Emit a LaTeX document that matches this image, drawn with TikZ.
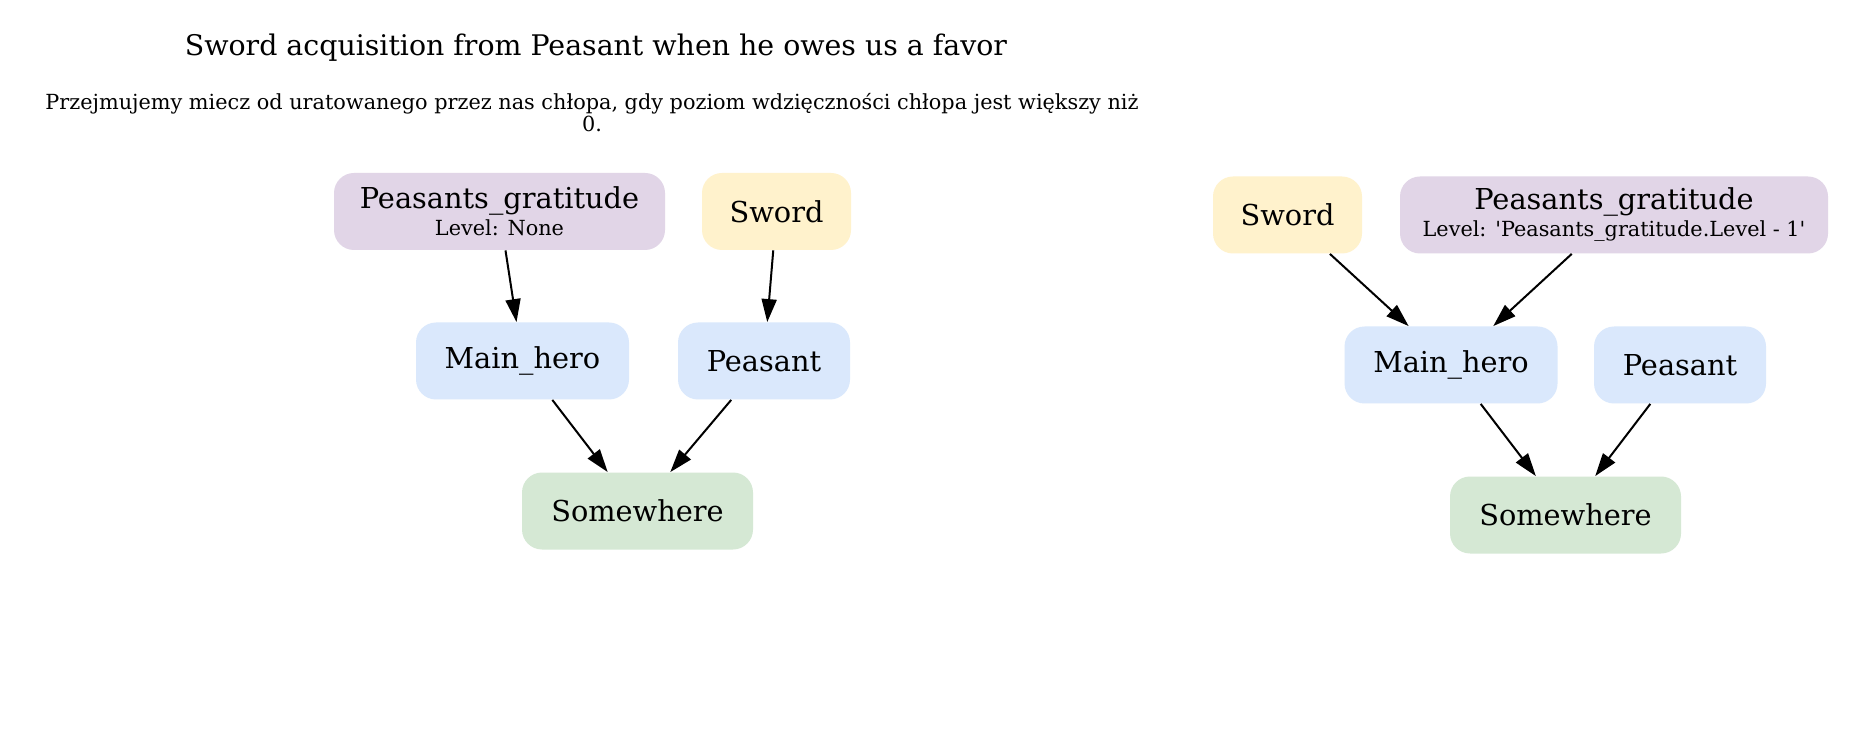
\documentclass[tikz,border=0pt]{standalone}
\usepackage{fontspec}
\setmainfont{DejaVu Serif}
\usetikzlibrary{arrows.meta}
\definecolor{cPurple}{HTML}{E1D5E7}
\definecolor{cYellow}{HTML}{FFF2CC}
\definecolor{cBlue}{HTML}{DAE8FC}
\definecolor{cGreen}{HTML}{D5E8D4}
\tikzset{
  box/.style={rounded corners=10pt, inner sep=0pt, minimum height=38.5pt, align=center,
    font=\fontsize{14.4}{17}\selectfont},
  purplebox/.style={box, fill=cPurple},
  yellowbox/.style={box, fill=cYellow},
  bluebox/.style={box, fill=cBlue},
  greenbox/.style={box, fill=cGreen},
  edge/.style={line width=1pt, -{Triangle[length=11.5pt,width=7.5pt]}}
}
\newcommand{\lvltext}[1]{{\fontsize{10.4}{12}\selectfont #1}}
\begin{document}
\begin{tikzpicture}[x=0.5pt, y=-0.5pt]
\useasboundingbox[fill=white] (0,0) rectangle (1855,731);
% title
\node[font=\fontsize{14.2}{17}\selectfont] (title) at (596,48) {Sword acquisition from Peasant when he owes us a favor};
\node[align=center, font=\fontsize{10.4}{10}\selectfont] (sub) at (592,113)
  {Przejmujemy miecz od uratowanego przez nas chłopa, gdy poziom wdzięczności chłopa jest większy niż\\0.};
% left graph
\node[purplebox, minimum width=165.5pt] (pg1) at (499.5,211.5)
  {Peasants\_gratitude\\[-3.5pt]\lvltext{Level: None}};
\node[yellowbox, minimum width=74.5pt] (sw1) at (776.5,211.5) {Sword};
\node[bluebox, minimum width=106.5pt] (mh1) at (522.5,361) {Main\_hero};
\node[bluebox, minimum width=86pt] (pe1) at (764,361) {Peasant};
\node[greenbox, minimum width=115.5pt] (so1) at (637.5,511) {Somewhere};
\draw[edge] (pg1) -- (mh1);
\draw[edge] (sw1) -- (pe1);
\draw[edge] (mh1) -- (so1);
\draw[edge] (pe1) -- (so1);
% right graph
\node[yellowbox, minimum width=74.5pt] (sw2) at (1287.5,215) {Sword};
\node[purplebox, minimum width=214pt] (pg2) at (1614,215)
  {Peasants\_gratitude\\[-3.5pt]\lvltext{Level: \textquotesingle Peasants\_gratitude.Level - 1\textquotesingle}};
\node[bluebox, minimum width=106.5pt] (mh2) at (1451,365) {Main\_hero};
\node[bluebox, minimum width=86pt] (pe2) at (1680,365) {Peasant};
\node[greenbox, minimum width=115.5pt] (so2) at (1565.5,515) {Somewhere};
\draw[edge] (sw2) -- (mh2);
\draw[edge] (pg2) -- (mh2);
\draw[edge] (mh2) -- (so2);
\draw[edge] (pe2) -- (so2);
\end{tikzpicture}
\end{document}
